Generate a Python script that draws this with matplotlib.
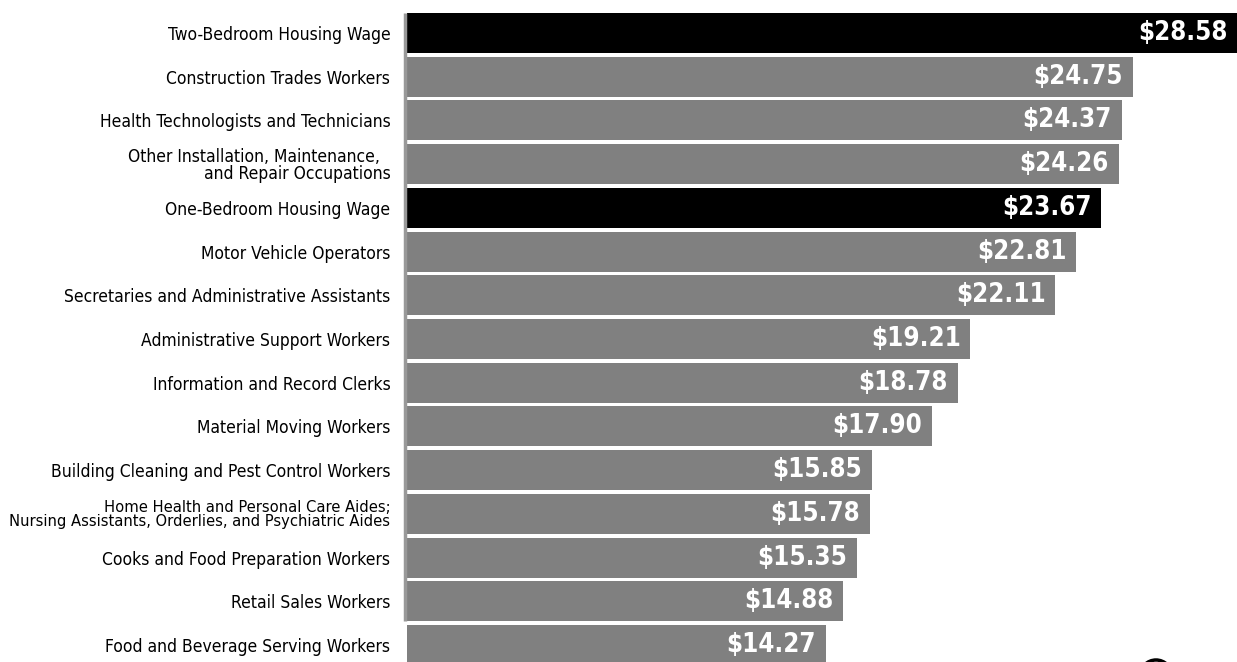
import matplotlib.pyplot as plt
from matplotlib import font_manager
from matplotlib.font_manager import FontProperties
from matplotlib.patches import Circle

occupations = [
    "Two-Bedroom Housing Wage",
    "Construction Trades Workers",
    "Health Technologists and Technicians",
    "Other Installation, Maintenance,  \nand Repair Occupations",
    "One-Bedroom Housing Wage",
    "Motor Vehicle Operators",
    "Secretaries and Administrative Assistants",
    "Administrative Support Workers",
    "Information and Record Clerks",
    "Material Moving Workers",
    "Building Cleaning and Pest Control Workers",
    "Home Health and Personal Care Aides;\nNursing Assistants, Orderlies, and Psychiatric Aides",
    "Cooks and Food Preparation Workers",
    "Retail Sales Workers",
    "Food and Beverage Serving Workers",
]
wages = [28.58, 24.75, 24.37, 24.26, 23.67, 22.81, 22.11, 19.21,
         18.78, 17.90, 15.85, 15.78, 15.35, 14.88, 14.27]
housing_wage = [True, False, False, False, True] + [False] * 10


def find_font(bold):
    # look for a condensed / narrow face, fall back to plain DejaVu
    for f in font_manager.fontManager.ttflist:
        fn = f.fname.lower()
        is_bold = 'bold' in fn
        if is_bold != bold or 'oblique' in fn or 'italic' in fn:
            continue
        if 'dejavusanscondensed' in fn or 'liberationsansnarrow' in fn:
            return FontProperties(fname=f.fname)
    return FontProperties(family='DejaVu Sans', weight='bold' if bold else 'normal')


label_font = find_font(False)
value_font = find_font(True)
condensed = label_font.get_file() is not None

fig = plt.figure(figsize=(12.37, 6.62), dpi=100)
ax = fig.add_axes([407 / 1237, 0, 1 - 407 / 1237, 1])

xmax = 28.3
colors = ['#000000' if h else '#808080' for h in housing_wage]
pos = list(range(len(wages)))
ax.barh(pos, wages, height=0.915, color=colors)

value_font.set_size(18.5 if condensed else 16)
for i, w in enumerate(wages):
    x = min(w, xmax)
    ax.annotate(f"${w:.2f}", (x, i), xytext=(-7, 0), textcoords='offset points',
                ha='right', va='center', color='white', fontproperties=value_font)

ax.vlines(-0.07, -0.46, 13.46, color='#999999', lw=2.5, clip_on=False)

ax.set_xlim(0, xmax)
ax.set_ylim(14.39, -0.755)
ax.set_yticks(pos)
label_font.set_size(12.5 if condensed else 10.5)
ax.set_yticklabels(occupations, fontproperties=label_font, linespacing=0.9)
for lab in ax.get_yticklabels():
    if lab.get_text().startswith("Home Health"):
        lab.set_fontsize(11.8 if condensed else 10)
ax.tick_params(axis='y', length=0, pad=12)
ax.set_xticks([])
for s in ax.spines.values():
    s.set_visible(False)

# top of the logo ring peeking in at the bottom right corner (pixel coords)
fig.patches.append(Circle((1156, -14), 16, transform=None, fill=False,
                          edgecolor='black', lw=2.5))

fig.savefig('out.png', dpi=100)
